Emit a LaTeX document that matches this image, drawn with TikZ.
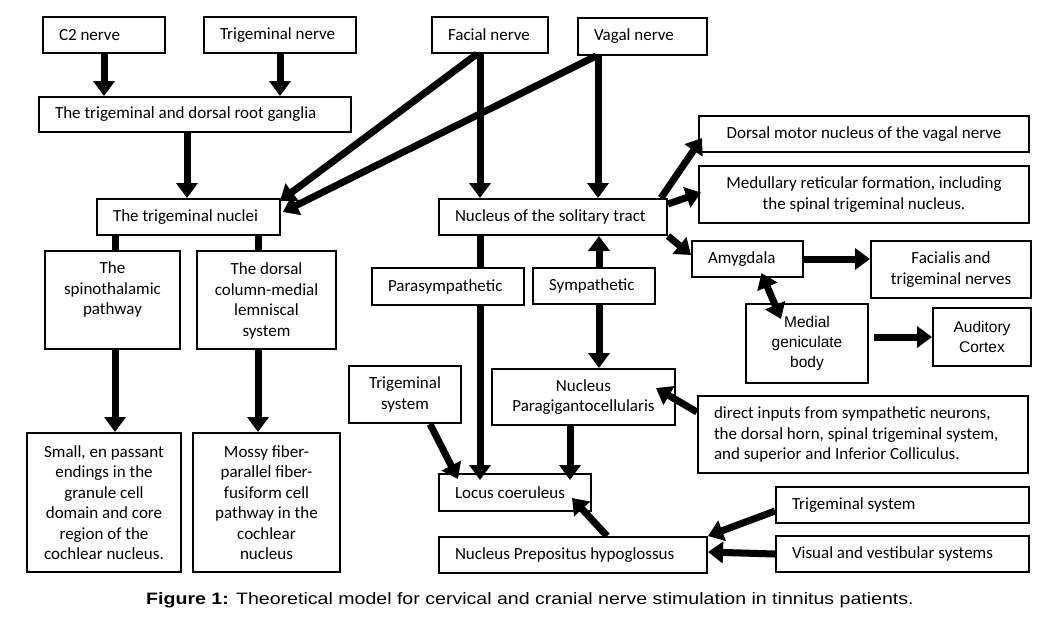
\documentclass[tikz,border=0pt]{standalone}
\usepackage{fontspec}
\setmainfont{Carlito}
\newfontfamily\arialf{Liberation Sans}
\usetikzlibrary{arrows.meta}
\tikzset{
  box/.style={draw, line width=2pt, inner xsep=16pt, inner ysep=0pt, font=\fontsize{17}{20.5}\selectfont},
  cbox/.style={box, inner xsep=4pt},
  mgbox/.style={cbox, font=\arialf\fontsize{15.5}{20}\selectfont},
  arr/.style={line width=7pt, -{Triangle[width=21pt,length=15pt]}},
  darr/.style={line width=7pt, {Triangle[width=21pt,length=15pt]}-{Triangle[width=21pt,length=15pt]}},
  plain/.style={line width=7pt},
}
\newcommand\mybox[8][box]{%
  \pgfmathsetmacro\cx{(#3+#5)/2}\pgfmathsetmacro\cy{(#4+#6)/2}%
  \pgfmathsetmacro\bw{#5-#3}\pgfmathsetmacro\bh{#6-#4}%
  \node[#1, minimum width=\bw pt, minimum height=\bh pt, align=#7] (#2) at (\cx,\cy) {#8};}
\newcommand\lbox[6]{% single line, text left aligned 16pt from the left side
  \pgfmathsetmacro\cx{(#2+#4)/2}\pgfmathsetmacro\cy{(#3+#5)/2}%
  \pgfmathsetmacro\bw{#4-#2-32}\pgfmathsetmacro\bh{#5-#3}%
  \node[box, minimum height=\bh pt, text width=\bw pt, align=left] (#1) at (\cx,\cy) {\spaceskip=0pt\xspaceskip=0pt\mbox{#6}};}
\begin{document}
\begin{tikzpicture}[x=1pt,y=-1pt]
\useasboundingbox (0,0) rectangle (1042,625);
% top row
\lbox{c2}{43}{17}{165}{53}{C2 nerve}
\lbox{tn}{204}{17}{356}{53}{Trigeminal nerve}
\lbox{fac}{432}{17}{548}{53}{Facial nerve}
\lbox{vag}{578}{18}{707}{55}{Vagal nerve}
\lbox{gang}{39}{97}{351}{132}{The trigeminal and dorsal root ganglia}
\lbox{nuc}{97}{199}{280}{235}{The trigeminal nuclei}
\lbox{nts}{439}{199}{667}{235}{Nucleus of the solitary tract}
% right column
\mybox[cbox]{dm}{699}{116}{1029}{152}{center}{Dorsal motor nucleus of the vagal nerve}
\mybox[cbox]{med}{699}{166}{1029}{223}{center}{Medullary reticular formation, including\\the spinal trigeminal nucleus.}
\lbox{amy}{692}{241}{803}{277}{Amygdala}
\mybox[cbox]{facl}{871}{241}{1031}{298}{center}{Facialis and\\trigeminal nerves}
\mybox[mgbox]{mg}{746}{304}{868}{383}{center}{Medial\\geniculate\\body}
\mybox[mgbox]{aud}{933}{308}{1031}{366}{center}{Auditory\\Cortex}
% left columns
\mybox[cbox]{spi}{45}{251}{180}{349}{center}{\parbox[c][94pt][t]{125pt}{\centering\vspace{9pt}The\\spinothalamic\\pathway}}
\mybox[cbox]{dcol}{197}{251}{336}{349}{center}{\parbox[c][94pt][t]{125pt}{\centering\vspace{10pt}The dorsal\\column-medial\\lemniscal\\system}}
\mybox[cbox]{small}{27}{433}{181}{572}{center}{Small, en passant\\endings in the\\granule cell\\domain and core\\region of the\\cochlear nucleus.}
\mybox[cbox]{moss}{193}{433}{340}{572}{center}{Mossy fiber-\\parallel fiber-\\fusiform cell\\pathway in the\\cochlear\\nucleus}
% middle
\lbox{para}{372}{268}{524}{305}{Parasympathetic}
\lbox{sym}{533}{268}{655}{304}{Sympathetic}
\mybox[cbox]{tsl}{349}{366}{461}{423}{center}{Trigeminal\\system}
\mybox[cbox]{np}{492}{369}{675}{425}{center}{Nucleus\\Paragigantocellularis}
\lbox{lc}{439}{474}{591}{511}{Locus coeruleus}
\lbox{nph}{439}{537}{707}{573}{Nucleus Prepositus hypoglossus}
\pgfmathsetmacro\dw{1028-698-32}
\node[box, text width=\dw pt, minimum height=77pt, align=left] (dir) at (863,434.5) {\spaceskip=0pt\xspaceskip=0pt direct inputs from sympathetic neurons,\\the dorsal horn, spinal trigeminal system,\\and superior and Inferior Colliculus.};
\lbox{tsr}{776}{487}{1029}{523}{Trigeminal system}
\lbox{vis}{776}{536}{1029}{572}{Visual and vestibular systems}
% connectors
\draw[arr] (c2.south -| 104,0) -- (gang.north -| 104,0);
\draw[arr] (tn.south -| 280,0) -- (gang.north -| 280,0);
\draw[arr] (gang.south -| 187,0) -- (nuc.north -| 187,0);
\draw[arr] (fac.south -| 477,0) -- ([xshift=-1pt,yshift=-3pt]nuc.north east);
\draw[arr] (vag.south -| 596,0) -- ([xshift=2pt,yshift=5pt]nuc.east);
\draw[arr] (fac.south -| 480,0) -- (nts.north -| 480,0);
\draw[arr] (vag.south -| 598,0) -- (nts.north -| 598,0);
\draw[arr] ([xshift=-7pt]nts.north east) -- ([xshift=4pt,yshift=-4pt]dm.west);
\draw[arr] ([yshift=-6pt]nts.north east) -- ([xshift=3pt,yshift=2pt]med.west);
\draw[arr] (nts.south east) -- ([yshift=4pt]amy.west);
\draw[arr] (amy.east) -- (amy.east -| facl.west);
\draw[darr] ([xshift=14pt,yshift=5pt]amy.south) -- ([xshift=-26pt,yshift=-16pt]mg.north);
\draw[arr] ([xshift=5pt]mg.east |- aud.west) -- (aud.west);
\draw[plain] (nuc.south -| 115,0) -- (spi.north -| 115,0);
\draw[plain] (nuc.south -| 258,0) -- (dcol.north -| 258,0);
\draw[arr] (spi.south -| 115,0) -- (small.north -| 115,0);
\draw[arr] (dcol.south -| 258,0) -- (moss.north -| 258,0);
\draw[plain] (nts.south -| 480,0) -- (para.north -| 480,0);
\draw[arr] (sym.north -| 599,0) -- (nts.south -| 599,0);
\draw[arr] (para.south -| 480,0) -- ([yshift=-7pt]lc.north -| 480,0);
\draw[arr] (sym.south -| 599,0) -- (np.north -| 599,0);
\draw[arr] ([xshift=25pt]tsl.south) -- ([yshift=-6pt]lc.north -| 458,0);
\draw[arr] (np.south -| 570,0) -- ([yshift=-7pt]lc.north -| 570,0);
\draw[arr] (nph.north -| 607,0) -- (572,498);
\draw[arr] ([yshift=-17pt]dir.north west) -- ([xshift=-20pt,yshift=9pt]np.east);
\draw[arr] ([yshift=-25pt]tsr.north west) -- (nph.north east);
\draw[arr] (vis.west) -- ([yshift=2pt]vis.west -| nph.east);
% caption
\node[font=\arialf\fontsize{16.5}{20}\selectfont, inner sep=0pt] (cap) at (530,600) {\scalebox{1.186}[1]{\textbf{Figure 1:} Theoretical model for cervical and cranial nerve stimulation in tinnitus patients.}};
\end{tikzpicture}
\end{document}
